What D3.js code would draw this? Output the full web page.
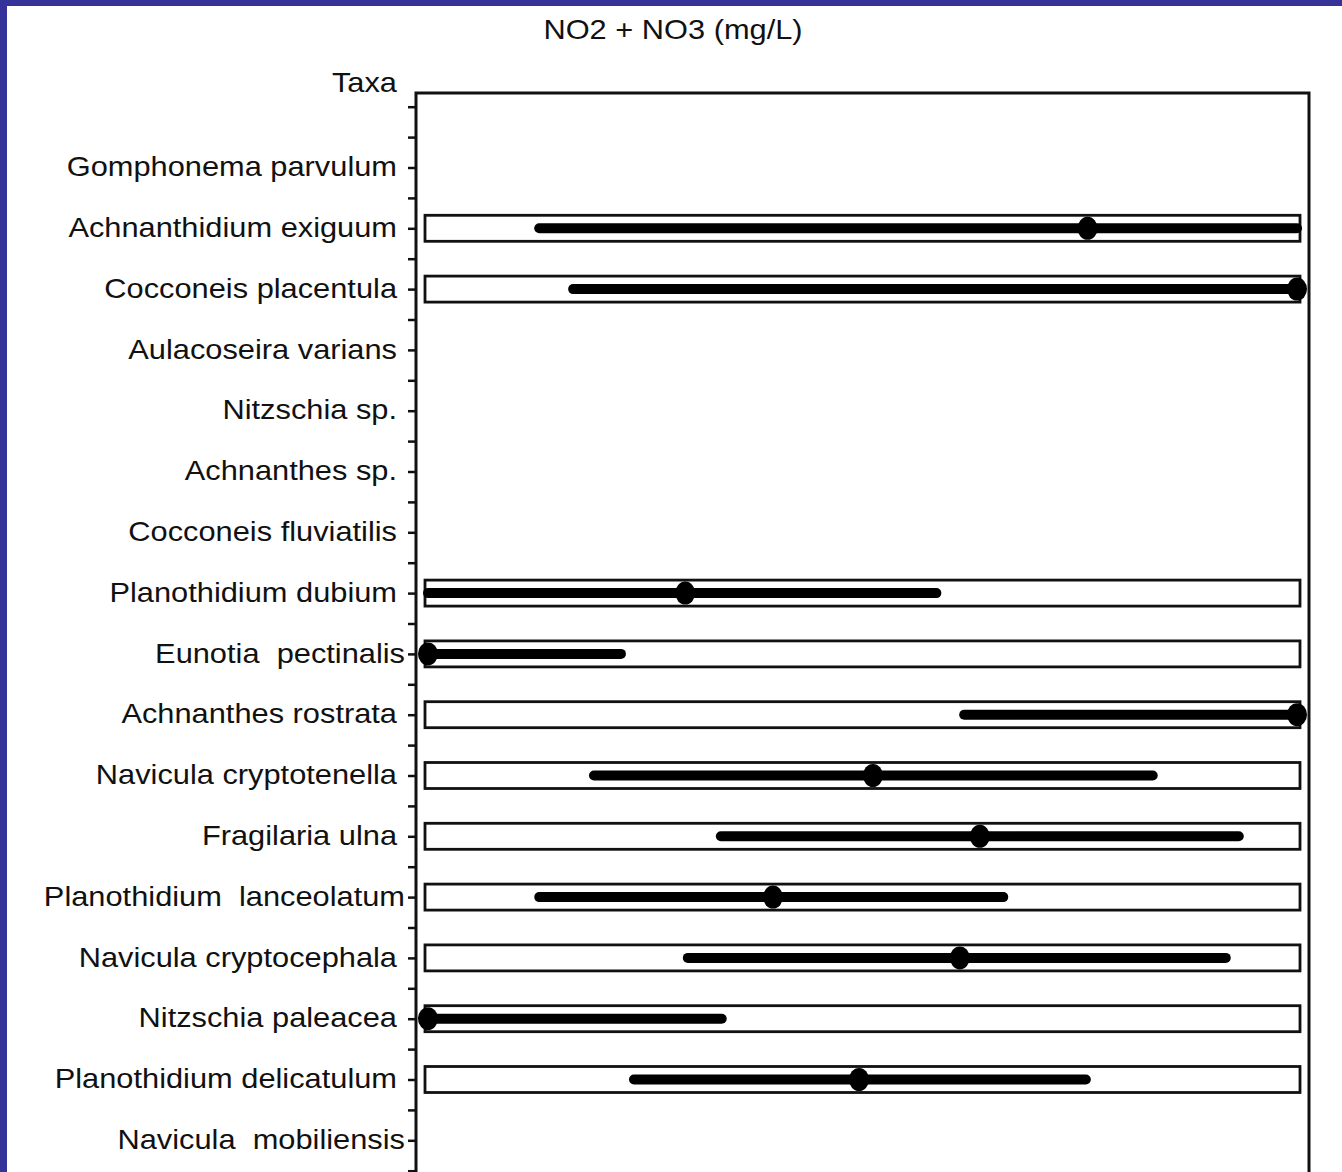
<!DOCTYPE html>
<html>
<head>
<meta charset="utf-8">
<script src="https://cdn.jsdelivr.net/npm/d3@7"></script>
<style>
  body { margin: 0; background: #353399; }
  svg { display: block; }
  text { font-family: "Liberation Sans", Arial, sans-serif; fill: #111; white-space: pre; }
</style>
</head>
<body>
<svg id="canvas" width="1342" height="1172"></svg>
<script>
// taxa top to bottom
let taxa = [
    "Gomphonema parvulum", "Achnanthidium exiguum", "Cocconeis placentula", "Aulacoseira varians",
    "Nitzschia sp.", "Achnanthes sp.", "Cocconeis fluviatilis", "Planothidium dubium",
    "Eunotia  pectinalis", "Achnanthes rostrata", "Navicula cryptotenella", "Fragilaria ulna",
    "Planothidium  lanceolatum", "Navicula cryptocephala", "Nitzschia paleacea",
    "Planothidium delicatulum", "Navicula  mobiliensis"
];
// range of NO2+NO3 (relative, 0-100 of plotted span); null = no record
let lowValues    = [null, 12.8, 16.7, null, null, null, null, 0,    0,    61.7, 19.1, 33.7, 12.8, 29.9, 0,    23.7, null];
let highValues   = [null, 100,  100,  null, null, null, null, 58.5, 22.2, 100,  83.4, 93.3, 66.2, 91.8, 33.8, 75.7, null];
let medianValues = [null, 75.9, 100,  null, null, null, null, 29.6, 0,    100,  51.2, 63.5, 39.7, 61.2, 0,    49.6, null];
// labels that run into their tick
let touching = ["Eunotia  pectinalis", "Planothidium  lanceolatum", "Navicula  mobiliensis"];

let canvas = d3.select('#canvas');
let width = 1342, height = 1172;
let frameLeft = 416, frameRight = 1309, frameTop = 93;
let stretch = 1.12;

canvas.append('rect')
    .attr('x', 7).attr('y', 6)
    .attr('width', width).attr('height', height)
    .attr('fill', '#fff');

let x = d3.scaleLinear().domain([0, 100]).range([428, 1297]);
let y = d3.scalePoint().domain(taxa).range([167.5, 167.5 + 16 * 60.8]);
let yLin = d3.scaleLinear().domain([0, taxa.length - 1]).range(y.range());

let rows = taxa.map((name, i) => ({
    name: name, low: lowValues[i], high: highValues[i], median: medianValues[i]
})).filter(d => d.low !== null);

// title
canvas.append('text')
    .attr('transform', 'translate(673,39) scale(' + stretch + ',1)')
    .attr('text-anchor', 'middle')
    .style('font-size', '27.5px')
    .text('NO2 + NO3 (mg/L)');

canvas.append('text')
    .attr('transform', 'translate(397,92) scale(' + stretch + ',1)')
    .attr('text-anchor', 'end')
    .style('font-size', '27.5px')
    .text('Taxa');

// minor ticks
let minorTicks = d3.range(-1, taxa.length, 0.5).filter(v => v < 0 || v % 1 !== 0);
let minorAxis = canvas.append('g')
    .attr('transform', 'translate(' + frameLeft + ',0)')
    .call(d3.axisLeft(yLin).tickValues(minorTicks).tickSize(8).tickFormat(() => ''));
minorAxis.select('.domain').remove();
minorAxis.selectAll('line').attr('stroke', '#111').attr('stroke-width', 2.5);

// major ticks with labels
let majorAxis = canvas.append('g')
    .attr('transform', 'translate(' + frameLeft + ',0)')
    .call(d3.axisLeft(y).tickSize(8).tickPadding(11));
majorAxis.select('.domain').remove();
majorAxis.selectAll('line').attr('stroke', '#111').attr('stroke-width', 2.5);
majorAxis.selectAll('text')
    .attr('x', (d) => touching.includes(d) ? -11 / stretch : -19 / stretch)
    .attr('dy', '0.3em')
    .attr('transform', 'scale(' + stretch + ',1)')
    .style('font-size', '27.5px')
    .style('font-family', '"Liberation Sans", Arial, sans-serif')
    .attr('fill', '#111');

// frame
canvas.append('path')
    .attr('d', 'M' + frameLeft + ',' + (height + 5) + 'V' + frameTop + 'H' + frameRight + 'V' + (height + 5))
    .attr('fill', 'none')
    .attr('stroke', '#111')
    .attr('stroke-width', 3);

// boxes
canvas.selectAll('rect.box')
    .data(rows)
    .enter()
    .append('rect')
    .attr('class', 'box')
    .attr('x', 425)
    .attr('y', d => y(d.name) - 13)
    .attr('width', 875)
    .attr('height', 26)
    .attr('fill', 'none')
    .attr('stroke', '#111')
    .attr('stroke-width', 2.8);

// range lines
canvas.selectAll('line.range')
    .data(rows)
    .enter()
    .append('line')
    .attr('class', 'range')
    .attr('x1', d => x(d.low))
    .attr('x2', d => x(d.high))
    .attr('y1', d => y(d.name))
    .attr('y2', d => y(d.name))
    .attr('stroke', '#000')
    .attr('stroke-width', 10)
    .attr('stroke-linecap', 'round');

// medians
canvas.selectAll('ellipse.median')
    .data(rows)
    .enter()
    .append('ellipse')
    .attr('class', 'median')
    .attr('cx', d => x(d.median))
    .attr('cy', d => y(d.name))
    .attr('rx', 10)
    .attr('ry', 11.5)
    .attr('fill', '#000');
</script>
</body>
</html>
